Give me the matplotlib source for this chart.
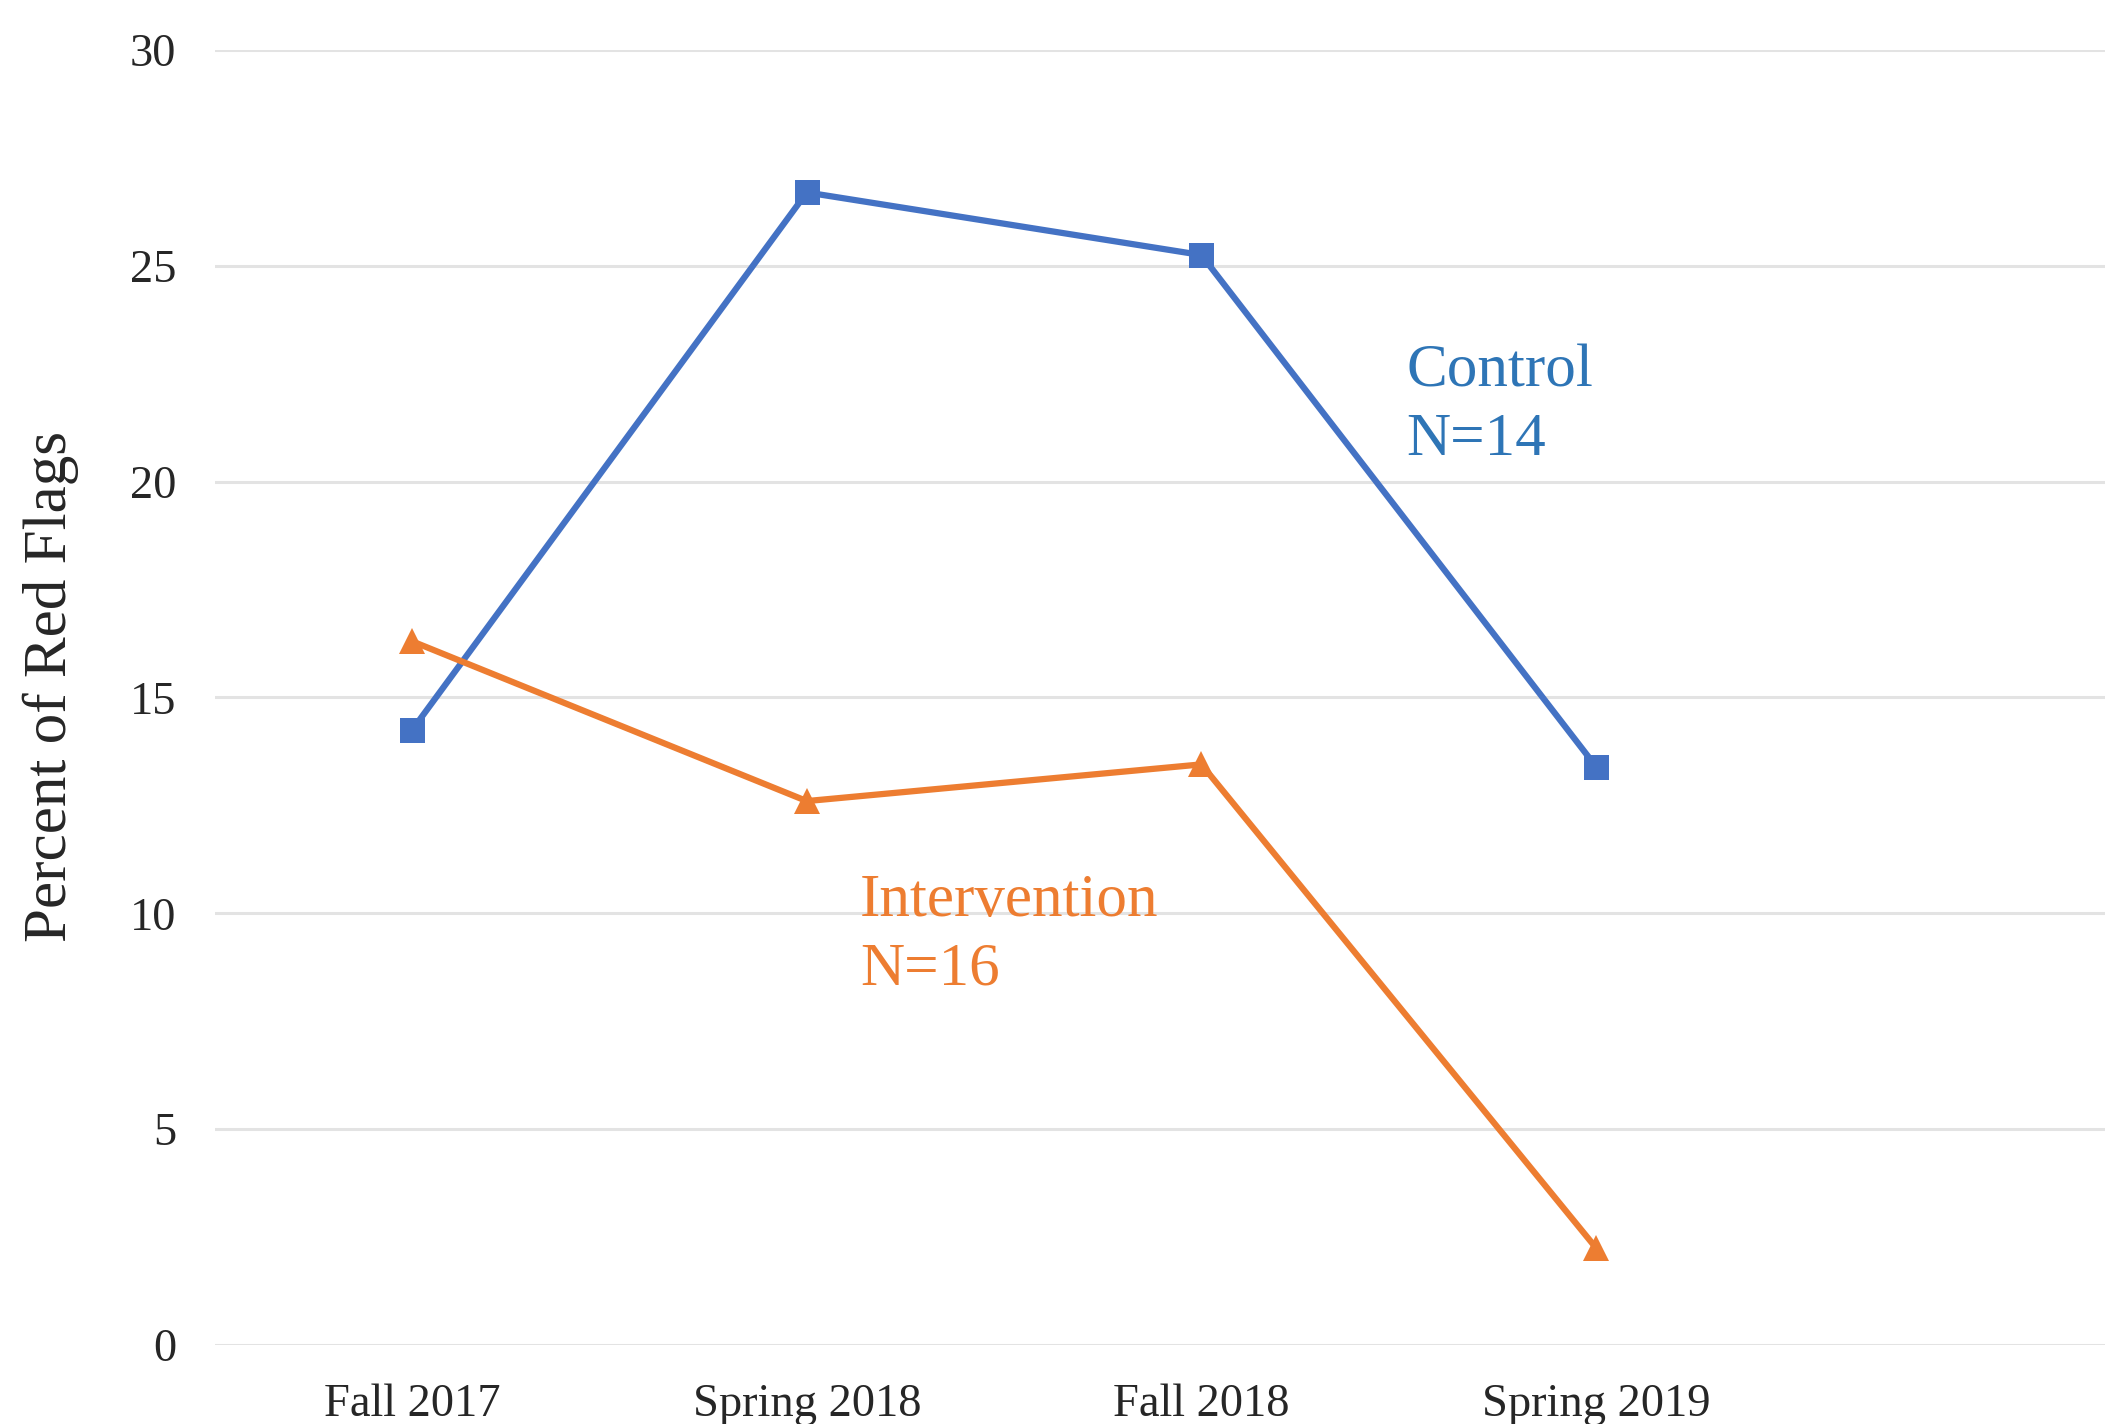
"""
Percent of red flags by semester, control vs intervention.
"""
import matplotlib
matplotlib.use("Agg")
import matplotlib.pyplot as plt

# data
semesters = ['Fall 2017', 'Spring 2018', 'Fall 2018', 'Spring 2019']
control = [14.25, 26.7, 25.25, 13.4]
intervention = [16.3, 12.6, 13.45, 2.25]
y_ticks = [0, 5, 10, 15, 20, 25, 30]

blue = '#4472C4'
orange = '#ED7D31'
label_blue = '#2E75B6'

plt.rcParams['font.family'] = ['Liberation Serif', 'DejaVu Serif']

fig = plt.figure(figsize=(21.05, 14.24), dpi=100)
ax = fig.add_axes([0.1021, 0.0555, 0.8979, 0.9094])

x = list(range(len(semesters)))
ax.plot(x, control, color=blue, lw=4.5, marker='s', markersize=18,
        markeredgewidth=0, zorder=3)
ax.plot(x, intervention, color=orange, lw=4.5, marker='^', markersize=19,
        markeredgewidth=0, zorder=3)

# axes styling (Excel-like)
ax.set_xlim(-0.5, 4.29)
ax.set_ylim(0, 30)
ax.set_yticks(y_ticks)
ax.set_xticks(x)
ax.set_xticklabels(semesters)
for s in ax.spines.values():
    s.set_visible(False)
ax.grid(axis='y', color='#E3E3E3', lw=2.2)
ax.set_axisbelow(True)
ax.tick_params(axis='both', length=0, labelsize=33.5, colors='#262626')
ax.tick_params(axis='y', pad=28)
ax.tick_params(axis='x', pad=28)

# series labels
ax.text(2.52, 23.2, 'Control\nN=14', color=label_blue, fontsize=44,
        ha='left', va='top', linespacing=1.32)
ax.text(1.135, 10.93, 'Intervention\nN=16', color=orange, fontsize=44,
        ha='left', va='top', linespacing=1.32)

fig.text(51 / 2105, 0.518, 'Percent of Red Flags', rotation=90,
         fontsize=44, color='#262626', ha='center', va='center')

fig.savefig('out.png', dpi=100)
